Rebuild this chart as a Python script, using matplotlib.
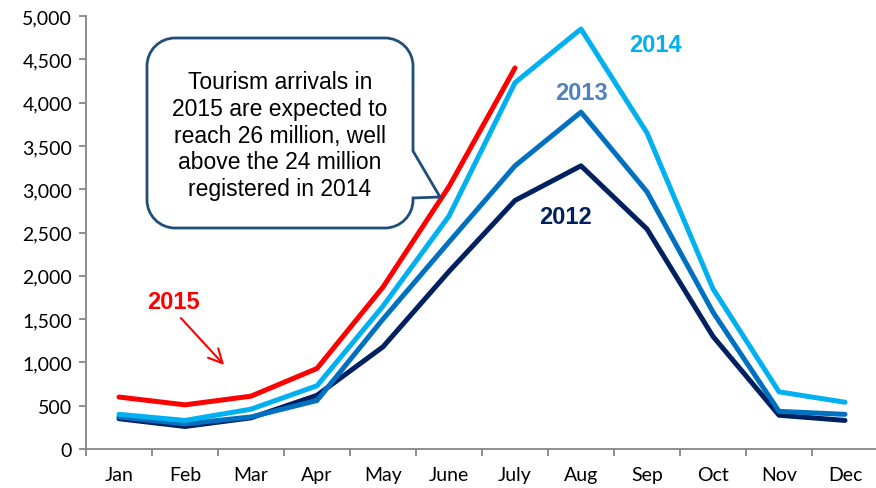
import matplotlib
matplotlib.use("Agg")
import matplotlib.pyplot as plt
from matplotlib.path import Path
from matplotlib.patches import PathPatch
from matplotlib.ticker import FuncFormatter, MultipleLocator, FixedLocator

# Monthly tourism arrivals (thousands)
months = ["Jan", "Feb", "Mar", "Apr", "May", "June", "July",
          "Aug", "Sep", "Oct", "Nov", "Dec"]
arrivals_2012 = [350, 260, 360, 620, 1180, 2050, 2870, 3270, 2540, 1300, 390, 330]
arrivals_2013 = [370, 290, 370, 560, 1500, 2390, 3270, 3890, 2970, 1580, 435, 400]
arrivals_2014 = [400, 330, 460, 730, 1650, 2690, 4230, 4850, 3650, 1850, 660, 540]
arrivals_2015 = [600, 510, 610, 930, 1870, 3030, 4400]

W, H = 876, 489
fig = plt.figure(figsize=(W / 100, H / 100), dpi=100)
ax = fig.add_axes([86 / W, 1 - 450 / H, (878 - 86) / W, (450 - 17) / H])

x_all = list(range(len(months)))
series = [
    (arrivals_2012, "#002060"),
    (arrivals_2013, "#0070C0"),
    (arrivals_2014, "#00B0F0"),
    (arrivals_2015, "#FF0000"),
]
for vals, col in series:
    ax.plot(x_all[:len(vals)], vals, color=col, lw=3.6,
            solid_capstyle="round", solid_joinstyle="round", zorder=3)

ax.set_xlim(-0.5, 11.5)
ax.set_ylim(0, 5000)

grey = "#868686"
for side in ("top", "right"):
    ax.spines[side].set_visible(False)
for side in ("left", "bottom"):
    ax.spines[side].set_color(grey)
    ax.spines[side].set_linewidth(1.3)

tick_font = "Lato"
ax.yaxis.set_major_locator(MultipleLocator(500))
ax.yaxis.set_major_formatter(FuncFormatter(lambda v, p: f"{int(v):,}"))
ax.tick_params(axis="y", direction="out", length=5, width=1.3, color=grey,
               labelsize=14, pad=5, labelcolor="black")
for lbl in ax.get_yticklabels():
    lbl.set_fontfamily(tick_font)

ax.xaxis.set_major_locator(FixedLocator(x_all))
ax.set_xticklabels(months, fontfamily=tick_font, fontsize=14)
ax.xaxis.set_minor_locator(FixedLocator([i - 0.5 for i in range(13)]))
ax.tick_params(axis="x", which="major", length=0, pad=12)
ax.tick_params(axis="x", which="minor", direction="out", length=5,
               width=1.3, color=grey)


def fp(x, y):
    return (x / W, 1 - y / H)


# Year labels
lab_font = ["Liberation Sans", "DejaVu Sans"]
for txt, (px, py), col in [("2014", (655, 46), "#00B0F0"),
                           ("2013", (582, 93), "#4F81BD"),
                           ("2012", (565, 218), "#002060"),
                           ("2015", (173, 303), "#FF0000")]:
    fig.text(*fp(px, py), txt, color=col, fontsize=17, fontweight="bold",
             family=lab_font, ha="center", va="center")

# Arrow pointing at the 2015 line
ax.annotate("", xy=fp(226, 368), xytext=fp(179, 317),
            xycoords="figure fraction", textcoords="figure fraction",
            arrowprops=dict(arrowstyle="->,head_length=1.0,head_width=0.5",
                            color="#FF0000", lw=1.5))

# Callout with rounded corners and a pointer
L, T, R, B = 147, 39, 413, 229
r = 28
k = 0.5523 * r
tail_top, tip, tail_bot = 152, (440, 198), 199
verts = [
    (L + r, T), (R - r, T),
    (R - r + k, T), (R, T + r - k), (R, T + r),
    (R, tail_top), tip, (R, tail_bot),
    (R, B - r),
    (R, B - r + k), (R - r + k, B), (R - r, B),
    (L + r, B),
    (L + r - k, B), (L, B - r + k), (L, B - r),
    (L, T + r),
    (L, T + r - k), (L + r - k, T), (L + r, T),
    (L + r, T),
]
codes = [
    Path.MOVETO, Path.LINETO,
    Path.CURVE4, Path.CURVE4, Path.CURVE4,
    Path.LINETO, Path.LINETO, Path.LINETO,
    Path.LINETO,
    Path.CURVE4, Path.CURVE4, Path.CURVE4,
    Path.LINETO,
    Path.CURVE4, Path.CURVE4, Path.CURVE4,
    Path.LINETO,
    Path.CURVE4, Path.CURVE4, Path.CURVE4,
    Path.CLOSEPOLY,
]
verts_f = [fp(x, y) for x, y in verts]
callout = PathPatch(Path(verts_f, codes), transform=fig.transFigure,
                    facecolor="white", edgecolor="#1F4E79", lw=2.0, zorder=5)
fig.patches.append(callout)

fig.text(*fp(280, 136),
         "Tourism arrivals in\n2015 are expected to\nreach 26 million, well\n"
         "above the 24 million\nregistered in 2014",
         family=lab_font, fontsize=16.5, ha="center", va="center",
         linespacing=1.2, color="black", zorder=6)

fig.savefig("out.png", dpi=100)
